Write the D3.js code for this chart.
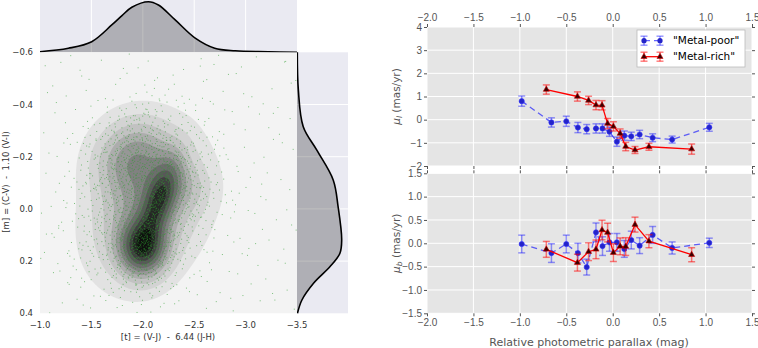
<!DOCTYPE html>
<html>
<head>
<meta charset="utf-8">
<style>
body { margin: 0; background: #fff; }
svg { font-family: "DejaVu Sans", sans-serif; }
.lt text { font-size: 8.5px; fill: #333; }
.rt text { font-size: 10px; fill: #555; }
.rt .tick line { stroke: #555; }
</style>
</head>
<body>
<script src="https://cdnjs.cloudflare.com/ajax/libs/d3/7.8.5/d3.min.js"></script>
<script>
// marginal density curves
var tVals = [-1.0, -1.276, -1.503, -1.698, -1.8, -1.893, -2.055, -2.152, -2.315, -2.51, -2.70, -2.90, -3.22, -3.5];
var tDens = [0.012, 0.08, 0.21, 0.54, 0.73, 0.89, 1.0, 0.935, 0.64, 0.28, 0.08, 0.03, 0.012, 0.0];
var mVals = [-0.6, -0.456, -0.315, -0.226, -0.111, -0.008, 0.119, 0.170, 0.221, 0.285, 0.349, 0.4];
var mDens = [0.007, 0.03, 0.14, 0.44, 0.81, 0.92, 1.0, 0.96, 0.74, 0.37, 0.11, 0.01];

// 2D density blobs: centre t, centre m, sd t, sd m, corr, weight
var blobT = [-2.0, -2.17, -1.9, -2.05, -2.45];
var blobM = [0.15, -0.04, -0.2, 0.0, -0.08];
var blobSt = [0.15, 0.13, 0.25, 0.34, 0.15];
var blobSm = [0.07, 0.1, 0.1, 0.165, 0.06];
var blobR = [0.0, 0.55, 0.1, 0.25, 0.0];
var blobW = [1.0, 0.75, 0.45, 0.5, 0.12];

// proper motions against relative parallax
var poorX = [-0.98, -0.66, -0.5, -0.375, -0.28, -0.18, -0.11, -0.035, 0.045, 0.125, 0.2, 0.29, 0.43, 0.64, 1.04];
var poorL = [0.8, -0.12, -0.07, -0.34, -0.41, -0.38, -0.38, -0.52, -0.95, -0.69, -0.72, -0.64, -0.78, -0.86, -0.33];
var poorLErr = [0.22, 0.2, 0.22, 0.22, 0.2, 0.2, 0.2, 0.2, 0.2, 0.2, 0.18, 0.18, 0.17, 0.15, 0.17];
var poorB = [-0.015, -0.21, -0.015, -0.21, -0.51, 0.235, -0.06, 0.02, 0.02, -0.12, 0.07, -0.05, 0.18, -0.1, 0.01];
var poorBErr = [0.19, 0.2, 0.19, 0.21, 0.17, 0.2, 0.2, 0.19, 0.19, 0.18, 0.19, 0.17, 0.18, 0.13, 0.1];

var richX = [-0.715, -0.38, -0.26, -0.18, -0.115, -0.055, 0.007, 0.08, 0.14, 0.24, 0.39, 0.85];
var richL = [1.3, 1.0, 0.83, 0.63, 0.62, -0.17, -0.29, -0.6, -1.16, -1.31, -1.17, -1.27];
var richLErr = [0.2, 0.2, 0.18, 0.2, 0.2, 0.22, 0.2, 0.2, 0.18, 0.15, 0.15, 0.22];
var richB = [-0.13, -0.415, -0.18, -0.13, 0.285, 0.23, -0.2, -0.065, -0.07, 0.4, 0.045, -0.245];
var richBErr = [0.17, 0.18, 0.19, 0.2, 0.21, 0.2, 0.19, 0.18, 0.19, 0.16, 0.14, 0.15];

var leftXTicks = [-1.0, -1.5, -2.0, -2.5, -3.0, -3.5];
var leftYTicks = [-0.6, -0.4, -0.2, 0.0, 0.2, 0.4];

var svg = d3.select("body").append("svg").attr("width", 758).attr("height", 348);
var fmt = d3.format(".1f");

// ---------- left: joint plot ----------
var x = d3.scaleLinear().domain([-1, -3.5]).range([40, 297]);
var y = d3.scaleLinear().domain([-0.6, 0.4]).range([52.3, 313.3]);

var left = svg.append("g").attr("class", "lt");

// top marginal
left.append("rect").attr("x", 40).attr("y", 0).attr("width", 257).attr("height", 52.3).attr("fill", "#eaeaf2");
left.selectAll(".vg").data([-1.5, -2.0, -2.5, -3.0]).enter().append("line")
  .attr("x1", d => x(d)).attr("x2", d => x(d)).attr("y1", 0).attr("y2", 52.3)
  .attr("stroke", "#fff").attr("stroke-width", 1);
var hTop = d3.scaleLinear().domain([0, 1]).range([52.3, 1.7]);
var topArea = d3.area().curve(d3.curveCatmullRom)
  .x((d, i) => x(tVals[i])).y0(52.3).y1((d, i) => hTop(d));
var topLine = d3.line().curve(d3.curveCatmullRom)
  .x((d, i) => x(tVals[i])).y((d, i) => hTop(d));
left.append("path").attr("d", topArea(tDens)).attr("fill", "#000").attr("fill-opacity", 0.25);
left.append("path").attr("d", topLine(tDens)).attr("fill", "none").attr("stroke", "#000").attr("stroke-width", 1.6);

// right marginal
left.append("rect").attr("x", 297).attr("y", 52.3).attr("width", 51).attr("height", 261).attr("fill", "#eaeaf2");
left.selectAll(".hg").data([-0.4, -0.2, 0.0, 0.2]).enter().append("line")
  .attr("x1", 297).attr("x2", 348).attr("y1", d => y(d)).attr("y2", d => y(d))
  .attr("stroke", "#fff").attr("stroke-width", 1);
var wSide = d3.scaleLinear().domain([0, 1]).range([297, 341.7]);
var sideArea = d3.area().curve(d3.curveCatmullRom)
  .y((d, i) => y(mVals[i])).x0(297).x1(d => wSide(d));
var sideLine = d3.line().curve(d3.curveCatmullRom)
  .y((d, i) => y(mVals[i])).x(d => wSide(d));
left.append("path").attr("d", sideArea(mDens)).attr("fill", "#000").attr("fill-opacity", 0.25);
left.append("path").attr("d", sideLine(mDens)).attr("fill", "none").attr("stroke", "#000").attr("stroke-width", 1.6);

// main density
left.append("rect").attr("x", 40).attr("y", 52.3).attr("width", 257).attr("height", 261).attr("fill", "#f3f3f3");

function dens(t, m) {
  var s = 0;
  for (var k = 0; k < blobT.length; k++) {
    var a = (t - blobT[k]) / blobSt[k], b = (m - blobM[k]) / blobSm[k], r = blobR[k];
    s += blobW[k] * Math.exp(-(a * a - 2 * r * a * b + b * b) / (2 * (1 - r * r)));
  }
  return s;
}

var step = 1.5, nx = Math.ceil(257 / step) + 1, ny = Math.ceil(261 / step) + 1;
var grid = new Array(nx * ny);
for (var j = 0; j < ny; j++) for (var i = 0; i < nx; i++) {
  grid[j * nx + i] = dens(x.invert(40 + i * step), y.invert(52.3 + j * step));
}
var dmax = d3.max(grid);
var levels = [0.04, 0.1, 0.17, 0.25, 0.33, 0.42, 0.51, 0.61, 0.71, 0.81, 0.91];
var contours = d3.contours().size([nx, ny]).thresholds(levels.map(l => l * dmax))(grid);
var proj = d3.geoPath(d3.geoTransform({
  point: function(px, py) { this.stream.point(40 + (px - 0.5) * step, 52.3 + (py - 0.5) * step); }
}));
left.append("clipPath").attr("id", "mainclip").append("rect")
  .attr("x", 40).attr("y", 52.3).attr("width", 257).attr("height", 261);
var cg = left.append("g").attr("clip-path", "url(#mainclip)");
cg.selectAll("path.c").data(contours).enter().append("path")
  .attr("d", proj)
  .attr("fill", (d, i) => d3.interpolateGreys(0.2 + i * 0.075));

// scattered stars, placed with a Halton sequence weighted by the density
function halton(i, b) { var f = 1, r = 0; while (i > 0) { f /= b; r += f * (i % b); i = Math.floor(i / b); } return r; }
var stars = [];
for (var n = 1; n < 40000; n++) {
  var t = -1 - 2.5 * halton(n, 2), m = -0.6 + halton(n, 3);
  var p = 0.006 + 0.5 * dens(t, m) / dmax;
  if (halton(n, 5) < p) stars.push([t, m]);
}
cg.selectAll("rect.s").data(stars).enter().append("rect")
  .attr("x", d => x(d[0]) - 0.5).attr("y", d => y(d[1]) - 0.5)
  .attr("width", 1).attr("height", 1)
  .attr("fill", "#2f9e2f").attr("fill-opacity", 0.6);

// left axes labels
left.selectAll(".xt").data(leftXTicks).enter().append("text")
  .attr("x", d => x(d)).attr("y", 327.5).attr("text-anchor", "middle").text(d => fmt(d));
left.selectAll(".yt").data(leftYTicks).enter().append("text")
  .attr("x", 33).attr("y", d => y(d) + 3).attr("text-anchor", "end").text(d => fmt(d));
left.append("text").attr("x", 168).attr("y", 340).attr("text-anchor", "middle")
  .style("white-space", "pre").text("[t] = (V-J)  -  6.44 (J-H)");
left.append("text").attr("transform", "translate(9," + 182 + ") rotate(-90)").attr("text-anchor", "middle")
  .style("white-space", "pre").text("[m] = (C-V)  -  1.10 (V-I)");

// ---------- right: proper motions ----------
var xr = d3.scaleLinear().domain([-2, 1.5]).range([427, 752]);
var yTop = d3.scaleLinear().domain([-2, 4]).range([166, 27]);
var yBot = d3.scaleLinear().domain([-1.5, 1.5]).range([313.3, 173.3]);

var right = svg.append("g").attr("class", "rt");

function panel(ys, ticks, tickFmt) {
  var g = right.append("g");
  g.append("rect").attr("x", 427).attr("y", ys.range()[1]).attr("width", 325)
    .attr("height", ys.range()[0] - ys.range()[1]).attr("fill", "#e5e5e5");
  g.selectAll(".gx").data(d3.range(-2, 1.51, 0.5)).enter().append("line")
    .attr("x1", d => xr(d)).attr("x2", d => xr(d)).attr("y1", ys.range()[1]).attr("y2", ys.range()[0])
    .attr("stroke", "#fff").attr("stroke-width", 1);
  g.selectAll(".gy").data(ticks).enter().append("line")
    .attr("x1", 427).attr("x2", 752).attr("y1", d => ys(d)).attr("y2", d => ys(d))
    .attr("stroke", "#fff").attr("stroke-width", 1);
  g.append("g").attr("transform", "translate(427,0)")
    .call(d3.axisLeft(ys).tickValues(ticks).tickFormat(tickFmt).tickSize(3).tickPadding(2));
  g.append("g").attr("transform", "translate(752,0)")
    .call(d3.axisRight(ys).tickValues(ticks).tickFormat("").tickSize(3));
  g.selectAll(".domain").remove();
  return g;
}

var gTop = panel(yTop, [-2, -1, 0, 1, 2, 3, 4], d3.format("d"));
var gBot = panel(yBot, [-1.5, -1.0, -0.5, 0.0, 0.5, 1.0, 1.5], fmt);
var xt = d3.range(-2, 1.51, 0.5);
gTop.append("g").attr("transform", "translate(0,27)")
  .call(d3.axisTop(xr).tickValues(xt).tickFormat(fmt).tickSize(3).tickPadding(3));
gTop.append("g").attr("transform", "translate(0,166)")
  .call(d3.axisBottom(xr).tickValues(xt).tickFormat("").tickSize(3));
gBot.append("g").attr("transform", "translate(0,313.3)")
  .call(d3.axisBottom(xr).tickValues(xt).tickFormat(fmt).tickSize(3).tickPadding(3));
gBot.append("g").attr("transform", "translate(0,173.3)")
  .call(d3.axisTop(xr).tickValues(xt).tickFormat("").tickSize(3));
right.selectAll(".domain").remove();

function series(g, ys, xs, vs, es, kind) {
  var blue = kind === "poor";
  var col = blue ? "#0000ff" : "#ff0000";
  var pts = xs.map((d, i) => ({ x: d, v: vs[i], e: es[i] }));
  var eb = g.append("g").attr("stroke", col).attr("stroke-opacity", blue ? 0.4 : 0.5).attr("stroke-width", 1.5);
  pts.forEach(function(d) {
    eb.append("line").attr("x1", xr(d.x)).attr("x2", xr(d.x)).attr("y1", ys(d.v - d.e)).attr("y2", ys(d.v + d.e));
    [d.v - d.e, d.v + d.e].forEach(function(c) {
      eb.append("line").attr("x1", xr(d.x) - 3.5).attr("x2", xr(d.x) + 3.5).attr("y1", ys(c)).attr("y2", ys(c));
    });
  });
  var ln = d3.line().x(d => xr(d.x)).y(d => ys(d.v));
  g.append("path").attr("d", ln(pts)).attr("fill", "none").attr("stroke", col)
    .attr("stroke-width", 1.3).attr("stroke-opacity", blue ? 0.6 : 1)
    .attr("stroke-dasharray", blue ? "6,4" : null);
  if (blue) {
    g.selectAll(null).data(pts).enter().append("circle")
      .attr("cx", d => xr(d.x)).attr("cy", d => ys(d.v)).attr("r", 2.6)
      .attr("fill", "#2424c8").attr("stroke", "#3030ff").attr("stroke-width", 0.6);
  } else {
    var tri = d3.symbol().type(d3.symbolTriangle).size(16);
    g.selectAll(null).data(pts).enter().append("path")
      .attr("transform", d => "translate(" + xr(d.x) + "," + ys(d.v) + ")")
      .attr("d", tri).attr("fill", "#3a0000").attr("stroke", "#d00000").attr("stroke-width", 0.6);
  }
}

series(gTop, yTop, poorX, poorL, poorLErr, "poor");
series(gTop, yTop, richX, richL, richLErr, "rich");
series(gBot, yBot, poorX, poorB, poorBErr, "poor");
series(gBot, yBot, richX, richB, richBErr, "rich");

// legend
var lg = right.append("g");
lg.append("rect").attr("x", 637).attr("y", 30).attr("width", 108).attr("height", 37)
  .attr("fill", "#fff").attr("stroke", "#bbb").attr("stroke-width", 0.8);
[["\"Metal-poor\"", "poor", 40.7], ["\"Metal-rich\"", "rich", 56.7]].forEach(function(r) {
  var blue = r[1] === "poor", col = blue ? "#0000ff" : "#ff0000", yy = r[2];
  lg.append("line").attr("x1", 644).attr("x2", 660).attr("y1", yy).attr("y2", yy)
    .attr("stroke", col).attr("stroke-width", 1.3).attr("stroke-opacity", blue ? 0.6 : 1)
    .attr("stroke-dasharray", blue ? "6,4" : null);
  [644, 660].forEach(function(cx) {
    var e = lg.append("g").attr("stroke", col).attr("stroke-opacity", blue ? 0.4 : 0.5).attr("stroke-width", 1.5);
    e.append("line").attr("x1", cx).attr("x2", cx).attr("y1", yy - 4.5).attr("y2", yy + 4.5);
    e.append("line").attr("x1", cx - 3.5).attr("x2", cx + 3.5).attr("y1", yy - 4.5).attr("y2", yy - 4.5);
    e.append("line").attr("x1", cx - 3.5).attr("x2", cx + 3.5).attr("y1", yy + 4.5).attr("y2", yy + 4.5);
    if (blue) lg.append("circle").attr("cx", cx).attr("cy", yy).attr("r", 2.6).attr("fill", "#2424c8");
    else lg.append("path").attr("transform", "translate(" + cx + "," + yy + ")")
      .attr("d", d3.symbol().type(d3.symbolTriangle).size(16)).attr("fill", "#3a0000").attr("stroke", "#d00000").attr("stroke-width", 0.6);
  });
  lg.append("text").attr("x", 673).attr("y", yy + 3.5).style("font-size", "10.5px").style("fill", "#000").text(r[0]);
});

// axis titles
function muLabel(cy, sub) {
  var t = right.append("text").attr("transform", "translate(400," + cy + ") rotate(-90)")
    .attr("text-anchor", "middle").style("font-size", "10.5px").style("fill", "#555");
  t.append("tspan").style("font-style", "italic").text("μ");
  t.append("tspan").style("font-style", "italic").style("font-size", "7.5px").attr("dy", 2).text(sub);
  t.append("tspan").attr("dy", -2).text(" (mas/yr)");
}
muLabel(96.5, "l");
muLabel(243.3, "b");
right.append("text").attr("x", 589).attr("y", 345.5).attr("text-anchor", "middle")
  .style("font-size", "11px").style("fill", "#555").text("Relative photometric parallax (mag)");
</script>
</body>
</html>
